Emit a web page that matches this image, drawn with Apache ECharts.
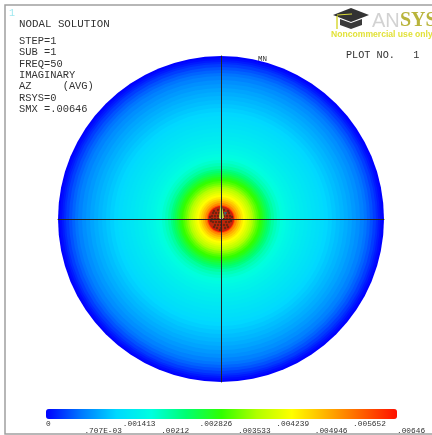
<!DOCTYPE html>
<html><head><meta charset="utf-8">
<style>html,body{margin:0;padding:0;background:#fff}#c{width:432px;height:435px;filter:blur(0.55px)}</style>
<script src="https://cdn.jsdelivr.net/npm/echarts@6/dist/echarts.min.js"></script></head>
<body><div id="c"></div><script>
const ringRadius=[163,161,159,157,155,152,149,146,143,139,135,131,127,123,119,115,111,107,103,99,95,91,87,83,79,75,71,68,65,62,59,56,53,50,48,46,44,42,40,38,36,34,32,30,28,26,24,22,20,18,16,14,13];
const ringValue=[0,.00006,.00014,.00023,.00033,.00044,.00054,.00063,.00071,.0008,.00087,.00094,.001,.00106,.00112,.00118,.00124,.0013,.00136,.00141,.00146,.00151,.00156,.00161,.00166,.00172,.00178,.00183,.00189,.00196,.00205,.00216,.0023,.00248,.00262,.00277,.00293,.0031,.00325,.00339,.00355,.00372,.0039,.00407,.00423,.00438,.00453,.00472,.00494,.00518,.00548,.00585,.00646];
const scaleColors=['#0000ff','#0078ff','#00d8ff','#00ffe0','#00ff70','#30ff00','#b0ff00','#ffff00','#ffb000','#ff6000','#ff1000'];
const coreDiscPoint=[[0,0]];
const coreDotX=[-9,-6,-3,0,3,6,9,-9,-6,-3,3,6,9,-8,-5,-2,5,8,-8,-5,-2,2,5,8,-6,-3,0,3,6,-4,0,4,-10,10,-7,7,-3,3,-7,7,-11,11,-1,1];
const coreDotY=[0,0,0,-3,0,0,0,3,3,3,3,3,3,-3,-3,-3,-3,-3,6,6,6,6,6,6,-6,-6,-6,-6,-6,-9,-9,-9,-2,-2,-8,-8,9,9,8,8,2,2,-11,11];
const wedgeRows=[[0,19,-2,1,3,1,'#b4e040'],[-2,1,1,-1,2,1,'#c8d0b0'],[3,7,6,7,4,3,'#3c6a70']];
const tickValues=[0,.000707,.001413,.00212,.002826,.003533,.004239,.004946,.005652,.00646];
const tickLabels=['0','.707E-03','.001413','.00212','.002826','.003533','.004239','.004946','.005652','.00646'];
const infoLines=['STEP=1','SUB =1','FREQ=50','IMAGINARY','AZ     (AVG)','RSYS=0','SMX =.00646'];
const mono='"Liberation Mono"';
const ink='#333';
const upper=tickValues.filter((v,i)=>i%2==0), lower=tickValues.filter((v,i)=>i%2==1);
const fmt=v=>{let b=0,d=1e9;tickValues.forEach((t,i)=>{const e=Math.abs(t-v);if(e<d){d=e;b=i}});return tickLabels[b]};
const lbl=(vals,m)=>({show:true,customValues:vals,formatter:fmt,align:'left',margin:m,fontFamily:mono,fontSize:7.8,color:ink,hideOverlap:false,showMinLabel:true,showMaxLabel:true});
const txt=(t,x,y,s,c,extra)=>({type:'text',x,y,silent:true,style:Object.assign({text:t,fontFamily:mono,fontSize:s||10,fill:c||ink,textVerticalAlign:'middle'},extra||{})});
const graphic=[
 {type:'rect',shape:{x:5,y:5,width:450,height:429},style:{fill:'none',stroke:'#a0a0a0',lineWidth:1.5},silent:true},
 txt('1',9,13,10,'#9fe8f0'),
 txt('NODAL SOLUTION',19,24,10.8),
 ...infoLines.map((t,i)=>txt(t,19,41+i*11.4,10.4)),
 txt('PLOT NO.   1',346,55,10.2),
 txt('MN',258,59,7.5),
 txt('X',243,216,9.5),
 {type:'polygon',shape:{points:[[333,15],[351,8],[369,15],[351,22]]},style:{fill:'#333'},silent:true},
 {type:'polygon',shape:{points:[[340,19],[351,23],[362,19],[362,25],[351,29],[340,25]]},style:{fill:'#3a3a3a'},silent:true},
 {type:'line',shape:{x1:337,y1:16,x2:337,y2:29},style:{stroke:'#d8d838',lineWidth:1.5},silent:true},
 {type:'line',shape:{x1:337,y1:15,x2:352,y2:14},style:{stroke:'#d8d838',lineWidth:1},silent:true},
 {type:'text',x:372,y:21,silent:true,style:{text:'AN',fontFamily:'"Liberation Sans"',fontSize:20,fill:'#d2d2d2',textVerticalAlign:'middle'}},
 {type:'text',x:400,y:21,silent:true,style:{text:'SYS',fontFamily:'"Liberation Serif"',fontWeight:'bold',fontSize:20,fill:'#b9b43c',textVerticalAlign:'middle'}},
 {type:'text',x:331,y:35,silent:true,style:{text:'Noncommercial use only',fontFamily:'"Liberation Sans"',fontWeight:'bold',fontSize:8.6,fill:'#e2e23a',textVerticalAlign:'middle'}}
];
const chart=echarts.init(document.getElementById('c'),null,{renderer:'canvas',width:432,height:435});
chart.setOption({
 animation:false,backgroundColor:'#fff',graphic,
 grid:[{left:58,top:56,width:326,height:326},{left:46,top:419,width:351,height:1}],
 xAxis:[
  {gridIndex:0,type:'value',min:-163,max:163,splitLine:{show:false},axisTick:{show:false},axisLabel:{show:false},axisLine:{show:true,onZero:true,lineStyle:{color:'#222',width:1}},z:20},
  {gridIndex:1,type:'value',min:0,max:.00646,splitLine:{show:false},axisLine:{show:false},axisTick:{show:false},axisLabel:lbl(upper,0)},
  {gridIndex:1,type:'value',min:0,max:.00646,splitLine:{show:false},axisLine:{show:false},axisTick:{show:false},axisLabel:lbl(lower,7),position:'bottom'}
 ],
 yAxis:[
  {gridIndex:0,type:'value',min:-163,max:163,splitLine:{show:false},axisTick:{show:false},axisLabel:{show:false},axisLine:{show:true,onZero:true,lineStyle:{color:'#222',width:1}},z:20},
  {gridIndex:1,show:false,min:0,max:1}
 ],
 visualMap:[{type:'continuous',seriesIndex:0,dimension:1,min:0,max:.00646,orient:'horizontal',left:46,top:409,itemWidth:10,itemHeight:351,calculable:false,text:null,showLabel:false,padding:0,inRange:{color:scaleColors},hoverLink:false}],
 series:[
  {type:'custom',xAxisIndex:0,yAxisIndex:0,clip:false,z:2,silent:true,encode:{x:0,y:1},
   data:ringRadius.map((r,i)=>[r,ringValue[i]]),
   renderItem:(p,api)=>{const c=api.coord([0,0]);const r=api.size([api.value(0),0])[0];
    return {type:'circle',shape:{cx:c[0],cy:c[1],r},style:{fill:api.visual('color')}}}},
  {type:'scatter',xAxisIndex:0,yAxisIndex:0,z:3,silent:true,symbolSize:25,itemStyle:{color:'#b02c0c'},data:coreDiscPoint},
  {type:'scatter',xAxisIndex:0,yAxisIndex:0,z:4,silent:true,symbolSize:2.4,itemStyle:{color:'#5a2410'},
   data:coreDotX.map((x,i)=>[x,coreDotY[i]])},
  {type:'custom',xAxisIndex:0,yAxisIndex:0,z:5,silent:true,encode:{x:0,y:1},
   data:wedgeRows,
   renderItem:(p,api)=>{const pt=k=>api.coord([api.value(k),api.value(k+1)]);
    return {type:'polygon',shape:{points:[pt(0),pt(2),pt(4)]},style:{fill:wedgeRows[p.dataIndex][6]}}}}
 ]
});
</script></body></html>
